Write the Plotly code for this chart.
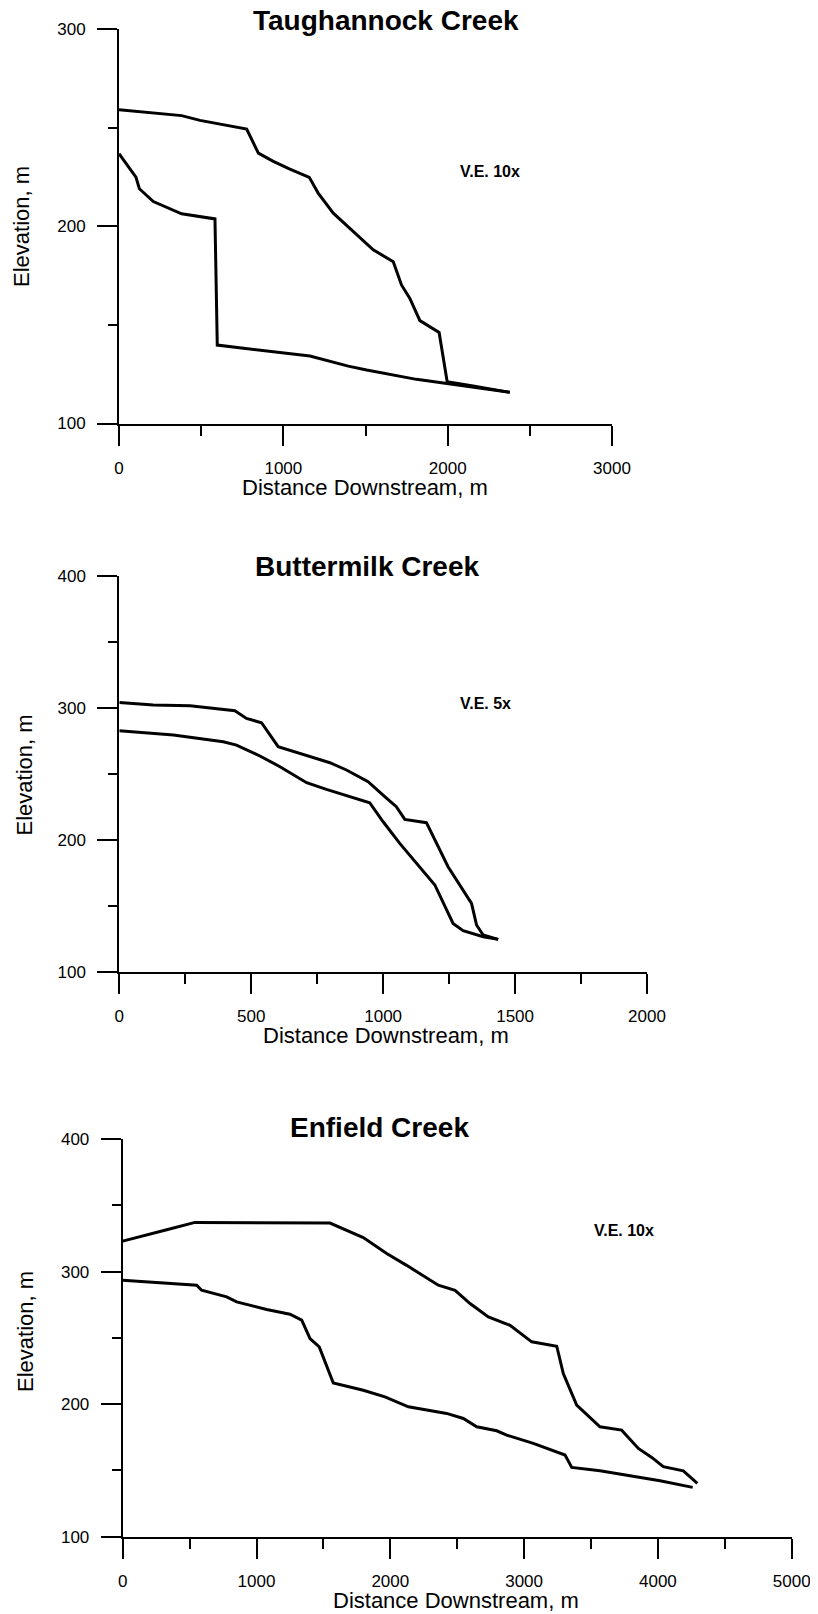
import plotly.graph_objects as go

# page is 818x1614; the HTML body adds an 8 px margin, so the figure is
# shifted by that amount and sized to fill the rest of the window
PAGE_W, PAGE_H = 818, 1614
OFF = 8
W, H = PAGE_W - OFF, PAGE_H - OFF

# ---------------- data ----------------
titles = ["Taughannock Creek", "Buttermilk Creek", "Enfield Creek"]
ve_labels = ["V.E. 10x", "V.E. 5x", "V.E. 10x"]

tau_upper_x = [0, 381, 493, 777, 848, 939, 1040, 1158, 1212, 1304, 1385, 1547, 1669,
               1719, 1770, 1831, 1948, 1997, 2155, 2378]
tau_upper_y = [259.2, 256.2, 253.8, 249.4, 237.2, 233.0, 229.1, 224.9, 216.9, 206.7,
               200.5, 188.1, 182.1, 170.3, 163.5, 152.2, 146.2, 121.2, 119.0, 115.8]
tau_lower_x = [0, 103, 124, 209, 381, 584, 598, 816, 1162, 1395, 1507, 1810, 1993,
               2177, 2378]
tau_lower_y = [236.9, 225.0, 219.1, 212.6, 206.4, 203.8, 139.8, 137.6, 134.2, 129.1,
               127.1, 122.4, 120.3, 118.3, 115.8]

but_upper_x = [0, 129, 268, 369, 438, 482, 539, 602, 684, 798, 861, 943, 1006, 1050,
               1082, 1164, 1246, 1335, 1354, 1379, 1436]
but_upper_y = [304.0, 302.0, 301.5, 299.5, 297.7, 291.9, 288.6, 270.5, 265.4, 258.3,
               252.8, 243.9, 232.6, 225.0, 215.4, 212.9, 179.5, 151.8, 135.4, 127.8, 124.5]
but_lower_x = [0, 205, 394, 444, 533, 609, 710, 785, 949, 1000, 1063, 1196, 1265,
               1303, 1379, 1436]
but_lower_y = [282.6, 279.3, 274.2, 271.7, 263.4, 255.3, 243.2, 238.1, 228.0, 213.6,
               197.2, 165.7, 136.6, 131.1, 126.5, 124.5]

enf_upper_x = [0, 204, 329, 540, 1549, 1798, 1973, 2122, 2359, 2484, 2596, 2733,
               2895, 3057, 3244, 3293, 3393, 3567, 3729, 3854, 3954, 4040, 4190, 4295]
enf_upper_y = [323.0, 328.0, 331.6, 337.1, 336.6, 325.6, 313.6, 304.7, 289.7, 285.9,
               275.9, 265.8, 259.5, 247.0, 243.7, 223.1, 199.2, 182.9, 180.4, 166.6,
               159.8, 152.8, 149.7, 140.2]
enf_lower_x = [0, 553, 590, 777, 852, 1076, 1250, 1338, 1400, 1469, 1574, 1798, 1960,
               2135, 2421, 2546, 2646, 2795, 2870, 3069, 3306, 3356, 3567, 3816, 4016,
               4260]
enf_lower_y = [293.4, 289.7, 285.9, 280.9, 277.1, 271.4, 267.8, 263.3, 249.5, 243.2,
               216.0, 210.5, 205.5, 198.0, 193.0, 189.2, 182.9, 179.9, 176.6, 170.4,
               161.6, 152.3, 149.7, 145.7, 142.2, 137.2]

x_ranges = [[0, 3000], [0, 2000], [0, 5000]]
y_ranges = [[100, 300], [100, 400], [100, 400]]
x_major = [1000, 500, 1000]
x_minor = [500, 250, 500]
y_major = [100, 100, 100]
y_minor = [50, 50, 50]

x_title = "Distance Downstream, m"
y_title = "Elevation, m"

# ---------------- layout geometry (page pixels) ----------------
plot_px = [  # left, right, top, bottom
    (119, 612, 29.3, 423.5),
    (119.3, 647, 575.7, 971.7),
    (122.7, 791.7, 1139, 1536.7),
]
title_pos = [(386, 20), (367, 566), (379, 1127)]
ve_pos = [(490, 172), (485, 704), (624, 1230)]
xt_pos = [(365, 487), (386, 1035), (456, 1600)]
yt_pos = [(22, 227), (23.5, 775), (25, 1332)]

FONT = "Liberation Sans, Arial, Helvetica, sans-serif"

series = [
    [(tau_upper_x, tau_upper_y), (tau_lower_x, tau_lower_y)],
    [(but_upper_x, but_upper_y), (but_lower_x, but_lower_y)],
    [(enf_upper_x, enf_upper_y), (enf_lower_x, enf_lower_y)],
]

fig = go.Figure()
layout = dict(
    width=W, height=H, autosize=False,
    margin=dict(l=0, r=0, t=0, b=0, pad=0),
    paper_bgcolor="white", plot_bgcolor="white",
    showlegend=False,
    font=dict(family=FONT, color="black"),
)
annotations = []

def px_x(X):
    return (X - OFF) / W

def px_y(Y):
    return 1 - (Y - OFF) / H

for i in range(3):
    n = "" if i == 0 else str(i + 1)
    l, r, t, b = plot_px[i]
    for xs, ys in series[i]:
        fig.add_trace(go.Scatter(
            x=xs, y=ys, mode="lines",
            line=dict(color="black", width=3),
            xaxis="x" + n, yaxis="y" + n, hoverinfo="skip",
        ))
    layout["xaxis" + n] = dict(
        domain=[px_x(l), px_x(r)], anchor="y" + n, automargin=False,
        range=x_ranges[i], showgrid=False, zeroline=False,
        showline=True, linecolor="black", linewidth=2,
        ticks="outside", ticklen=20, tickwidth=1.5, tickcolor="black",
        tick0=0, dtick=x_major[i], ticklabelstandoff=8,
        tickfont=dict(family=FONT, size=17, color="black"),
        minor=dict(ticks="outside", ticklen=10, tickwidth=1.5, tickcolor="black",
                   dtick=x_minor[i], tick0=0, showgrid=False),
    )
    layout["yaxis" + n] = dict(
        domain=[px_y(b), px_y(t)], anchor="x" + n, automargin=False,
        range=y_ranges[i], showgrid=False, zeroline=False,
        showline=True, linecolor="black", linewidth=2,
        ticks="outside", ticklen=20, tickwidth=1.5, tickcolor="black",
        tick0=0, dtick=y_major[i], ticklabelstandoff=8,
        tickfont=dict(family=FONT, size=17, color="black"),
        minor=dict(ticks="outside", ticklen=9, tickwidth=1.5, tickcolor="black",
                   dtick=y_minor[i], tick0=0, showgrid=False),
    )
    annotations.append(dict(
        text="<b>%s</b>" % titles[i], xref="paper", yref="paper",
        x=px_x(title_pos[i][0]), y=px_y(title_pos[i][1]),
        xanchor="center", yanchor="middle", showarrow=False,
        font=dict(family=FONT, size=28, color="black"),
    ))
    annotations.append(dict(
        text="<b>%s</b>" % ve_labels[i], xref="paper", yref="paper",
        x=px_x(ve_pos[i][0]), y=px_y(ve_pos[i][1]),
        xanchor="center", yanchor="middle", showarrow=False,
        font=dict(family=FONT, size=16, color="black"),
    ))
    annotations.append(dict(
        text=x_title, xref="paper", yref="paper",
        x=px_x(xt_pos[i][0]), y=px_y(xt_pos[i][1]),
        xanchor="center", yanchor="middle", showarrow=False,
        font=dict(family=FONT, size=22, color="black"),
    ))
    annotations.append(dict(
        text=y_title, xref="paper", yref="paper",
        x=px_x(yt_pos[i][0]), y=px_y(yt_pos[i][1]),
        xanchor="center", yanchor="middle", showarrow=False, textangle=-90,
        font=dict(family=FONT, size=22, color="black"),
    ))

layout["annotations"] = annotations
fig.update_layout(**layout)
fig.write_html("out.html")
